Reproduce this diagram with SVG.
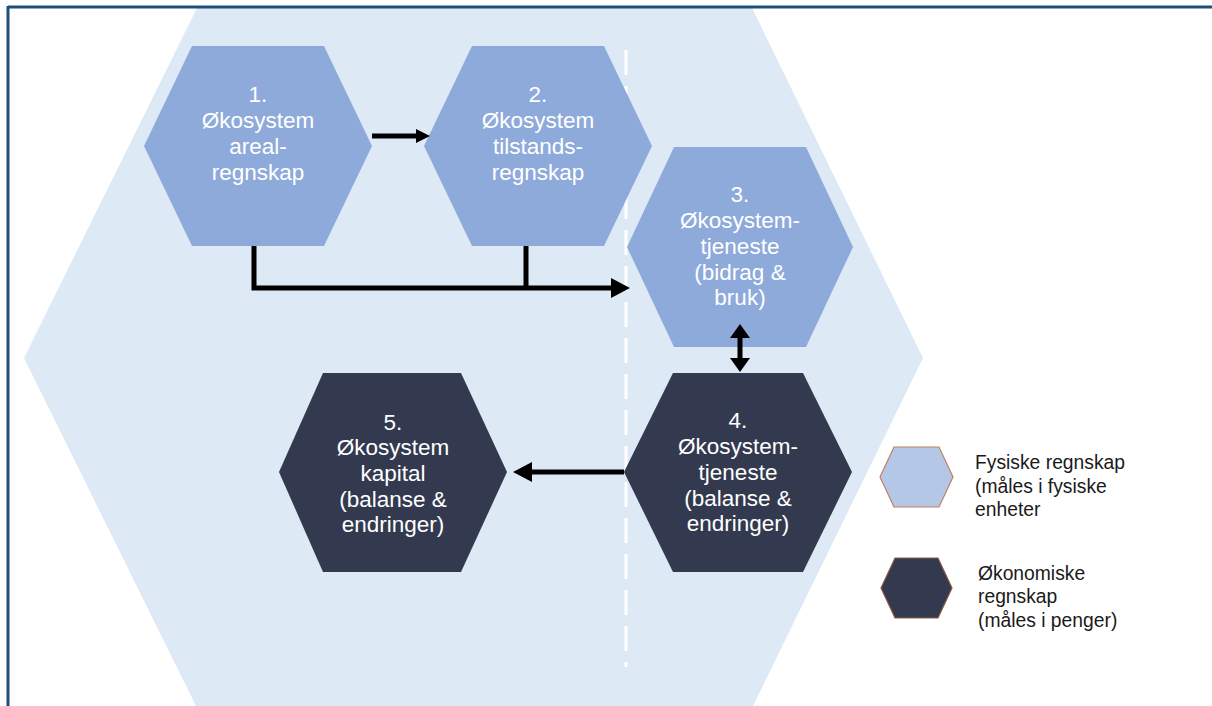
<svg xmlns="http://www.w3.org/2000/svg" width="1212" height="706" viewBox="0 0 1212 706">
<defs>
<style>
.frame{stroke:#1f4e79;stroke-width:3;fill:none}
.light{fill:#8eaadb}
.dark{fill:#333a50}
.ntext{font-family:"Liberation Sans",Arial,sans-serif;font-size:22.5px;fill:#ffffff;text-anchor:middle}
.ltext{font-family:"Liberation Sans",Arial,sans-serif;font-size:19.3px;fill:#1a1a1a}
.conn{stroke:#000;stroke-width:5;fill:none}
</style>
<marker id="ahS" markerUnits="userSpaceOnUse" markerWidth="14" markerHeight="14" refX="0" refY="7" orient="auto"><path d="M0,0 L14,7 L0,14 z" fill="#000"/></marker>
<marker id="ahL" markerUnits="userSpaceOnUse" markerWidth="19" markerHeight="20" refX="0" refY="10" orient="auto"><path d="M0,0 L19,10 L0,20 z" fill="#000"/></marker>
<marker id="ahD" markerUnits="userSpaceOnUse" markerWidth="14" markerHeight="20" refX="0" refY="10" orient="auto-start-reverse"><path d="M0,0 L14,10 L0,20 z" fill="#000"/></marker>
</defs>
<rect width="1212" height="706" fill="#ffffff"/>
<g id="background">
<polygon points="24,358 197,8 752,8 923,358 752,708 197,708" fill="#dde9f5"/>
<line x1="626" y1="50" x2="626" y2="667" stroke="#ffffff" stroke-width="3" stroke-dasharray="25,11"/>
</g>
<g id="frame">
<line class="frame" x1="8" y1="7" x2="1212" y2="7"/>
<line class="frame" x1="8" y1="6" x2="8" y2="706"/>
</g>
<g id="node1">
<polygon class="light" points="144,146 192,46 324,46 372,146 324,246 192,246"/>
<text class="ntext" x="258" y="102">1.</text>
<text class="ntext" x="258" y="128">Økosystem</text>
<text class="ntext" x="258" y="154">areal-</text>
<text class="ntext" x="258" y="180">regnskap</text>
</g>
<g id="node2">
<polygon class="light" points="424,146 472,46 604,46 652,146 604,246 472,246"/>
<text class="ntext" x="538" y="102">2.</text>
<text class="ntext" x="538" y="128">Økosystem</text>
<text class="ntext" x="538" y="154">tilstands-</text>
<text class="ntext" x="538" y="180">regnskap</text>
</g>
<g id="node3">
<polygon class="light" points="627,247 674,147 806,147 853,247 806,347 674,347"/>
<text class="ntext" x="740" y="202">3.</text>
<text class="ntext" x="740" y="228">Økosystem-</text>
<text class="ntext" x="740" y="254">tjeneste</text>
<text class="ntext" x="740" y="280">(bidrag &amp;</text>
<text class="ntext" x="740" y="305">bruk)</text>
</g>
<g id="node4">
<polygon class="dark" points="624,472 673,373 803,373 852,472 803,572 673,572"/>
<text class="ntext" x="738" y="428">4.</text>
<text class="ntext" x="738" y="454">Økosystem-</text>
<text class="ntext" x="738" y="480">tjeneste</text>
<text class="ntext" x="738" y="506">(balanse &amp;</text>
<text class="ntext" x="738" y="531">endringer)</text>
</g>
<g id="node5">
<polygon class="dark" points="279,472 323,373 461,373 507,472 461,572 323,572"/>
<text class="ntext" x="393" y="430">5.</text>
<text class="ntext" x="393" y="455">Økosystem</text>
<text class="ntext" x="393" y="481">kapital</text>
<text class="ntext" x="393" y="507">(balanse &amp;</text>
<text class="ntext" x="393" y="532">endringer)</text>
</g>
<g id="connectors">
<line class="conn" x1="372" y1="136" x2="416" y2="136" marker-end="url(#ahS)"/>
<path class="conn" d="M254,246 V288 H611" marker-end="url(#ahL)"/>
<line class="conn" x1="526" y1="246" x2="526" y2="288"/>
<line class="conn" x1="740" y1="338" x2="740" y2="358" marker-start="url(#ahD)" marker-end="url(#ahD)"/>
<line class="conn" x1="624" y1="472" x2="532" y2="472" marker-end="url(#ahL)"/>
</g>
<g id="legend-physical">
<polygon points="880,477 894,447 939,447 953,477 939,507 894,507" fill="#b4c7e7" stroke="#c08060" stroke-width="1.2"/>
<text class="ltext" x="975" y="469">Fysiske regnskap</text>
<text class="ltext" x="975" y="493">(måles i fysiske</text>
<text class="ltext" x="975" y="516">enheter</text>
</g>
<g id="legend-economic">
<polygon points="881,588 895,558 938,558 952,588 938,618 895,618" fill="#333a50" stroke="#8b5a3c" stroke-width="1.2"/>
<text class="ltext" x="978" y="580">Økonomiske</text>
<text class="ltext" x="978" y="603">regnskap</text>
<text class="ltext" x="978" y="627">(måles i penger)</text>
</g>
</svg>
